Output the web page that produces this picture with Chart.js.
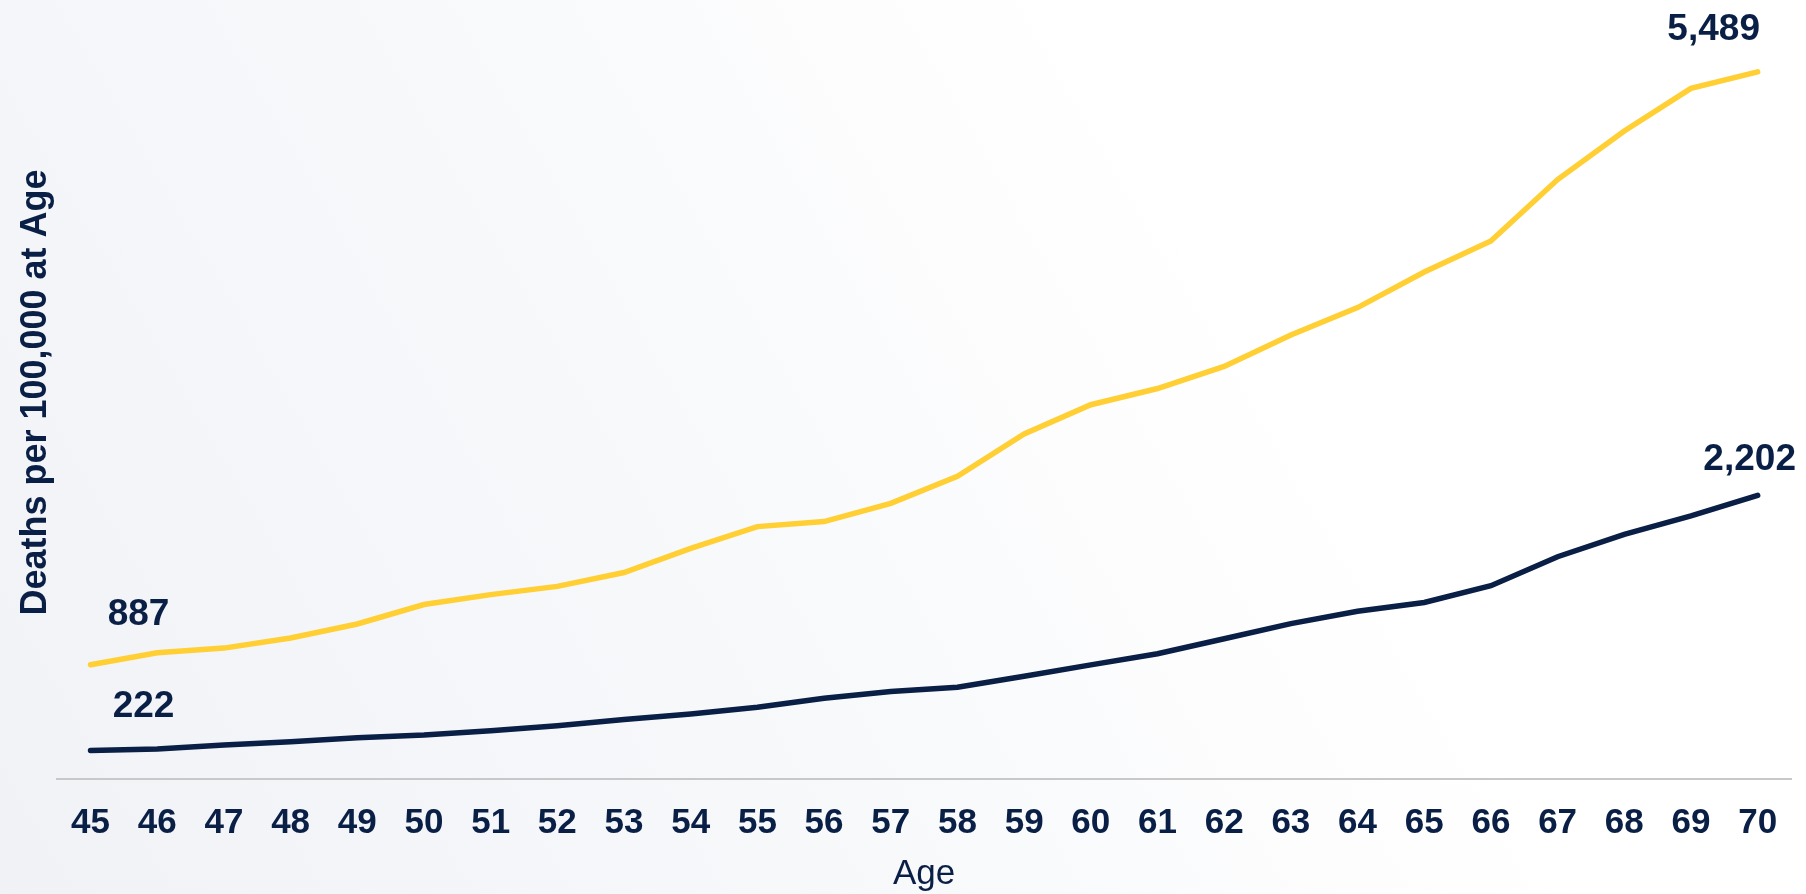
<!DOCTYPE html>
<html>
<head>
<meta charset="utf-8">
<script src="https://cdn.jsdelivr.net/npm/chart.js@4.4.1/dist/chart.umd.min.js"></script>
<style>
    html, body {
        margin: 0;
        padding: 0;
        width: 1806px;
        height: 894px;
        overflow: hidden;
        background: linear-gradient(60deg, #f0f2f6 0%, #f8f9fb 40%, #ffffff 68%);
    }
    #wrap { position: relative; width: 1806px; height: 894px; }
    canvas { display: block; }
</style>
</head>
<body>
<div id="wrap"><canvas id="deathsChart" width="1806" height="894"></canvas></div>
<script>
// Alter 45 bis 70
const ages = ['45', '46', '47', '48', '49', '50', '51', '52', '53', '54', '55', '56', '57',
    '58', '59', '60', '61', '62', '63', '64', '65', '66', '67', '68', '69', '70'];

// obere Linie (gelb)
const upperSeries = [887, 980, 1016, 1094, 1203, 1354, 1431, 1495, 1603, 1790, 1959, 1998, 2140,
    2350, 2678, 2905, 3031, 3202, 3446, 3659, 3935, 4176, 4653, 5030, 5361, 5489];

// untere Linie (dunkelblau)
const lowerSeries = [222, 232, 263, 290, 321, 341, 375, 414, 461, 505, 557, 627, 679,
    713, 798, 886, 972, 1089, 1206, 1302, 1370, 1500, 1725, 1898, 2042, 2202];

const NAVY = '#0a1f45';
const YELLOW = '#ffcf33';
const FONT = "'Liberation Sans', Arial, sans-serif";

// Beschriftung fuer ersten und letzten Punkt jeder Linie (Versatz in Pixel)
const endLabels = [
    { dataset: 0, index: 0, dx: 48, dy: -50 },
    { dataset: 0, index: 25, dx: -44, dy: -42 },
    { dataset: 1, index: 0, dx: 53, dy: -44 },
    { dataset: 1, index: 25, dx: -8, dy: -36 }
];

const endLabelPlugin = {
    id: 'endLabels',
    afterDatasetsDraw(chart) {
        const ctx = chart.ctx;
        ctx.save();
        ctx.font = `bold 37px ${FONT}`;
        ctx.fillStyle = NAVY;
        ctx.textAlign = 'center';
        ctx.textBaseline = 'middle';
        endLabels.forEach(l => {
            const pt = chart.getDatasetMeta(l.dataset).data[l.index];
            const value = chart.data.datasets[l.dataset].data[l.index];
            ctx.fillText(value.toLocaleString('en-US'), pt.x + l.dx, pt.y + l.dy);
        });
        ctx.restore();
    }
};

const ctx = document.getElementById('deathsChart').getContext('2d');
new Chart(ctx, {
    type: 'line',
    data: {
        labels: ages,
        datasets: [{
            data: upperSeries,
            borderColor: YELLOW,
            borderWidth: 5.5,
            borderCapStyle: 'round',
            pointRadius: 0,
            fill: false,
            tension: 0
        }, {
            data: lowerSeries,
            borderColor: NAVY,
            borderWidth: 5.5,
            borderCapStyle: 'round',
            pointRadius: 0,
            fill: false,
            tension: 0
        }]
    },
    options: {
        responsive: false,
        animation: false,
        layout: {
            padding: { left: 14, right: 15, top: 6, bottom: 1 }
        },
        plugins: {
            legend: { display: false },
            tooltip: { enabled: false }
        },
        scales: {
            x: {
                offset: true,
                grid: { display: false, drawTicks: false },
                border: { display: true, color: '#c8c8c8', width: 2 },
                ticks: {
                    color: NAVY,
                    font: { family: FONT, size: 35, weight: 'bold' },
                    padding: 23,
                    maxRotation: 0,
                    autoSkip: false
                },
                title: {
                    display: true,
                    text: 'Age',
                    color: NAVY,
                    font: { family: FONT, size: 35 },
                    padding: { top: -14, bottom: -2 }
                }
            },
            y: {
                min: 0,
                max: 6000,
                grid: { display: false, drawTicks: false },
                border: { display: false },
                ticks: { display: false },
                title: {
                    display: true,
                    text: 'Deaths per 100,000 at Age',
                    color: NAVY,
                    font: { family: FONT, size: 36, weight: 'bold' },
                    padding: 0
                }
            }
        }
    },
    plugins: [endLabelPlugin]
});
</script>
</body>
</html>
